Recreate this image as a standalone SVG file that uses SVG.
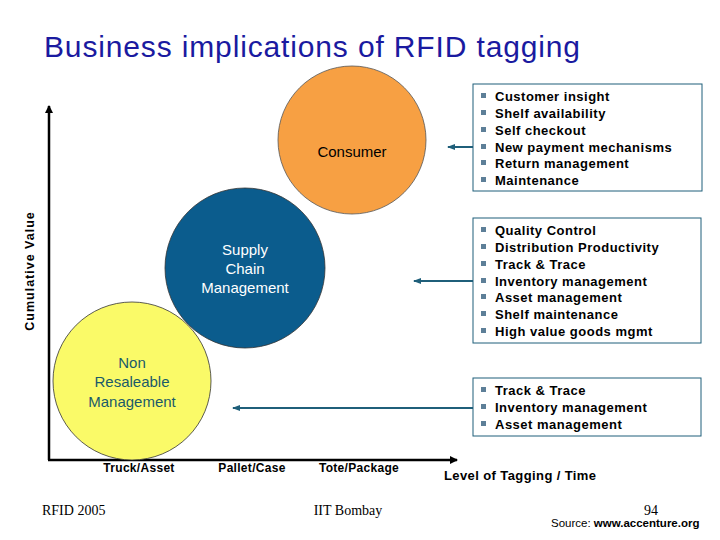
<svg xmlns="http://www.w3.org/2000/svg" width="720" height="540" viewBox="0 0 720 540">
<defs>
<style>
.t{font-family:"Liberation Sans",Arial,sans-serif}
.b{font-size:13px;font-weight:bold;fill:#000;letter-spacing:0.5px}
.box{fill:#fff;stroke:#1f5f7a;stroke-width:1}
.c{stroke:#1f5f7a;stroke-width:2;fill:none;marker-end:url(#ah)}
.sq{fill:#5d7f98;letter-spacing:0}
.ax{font-size:12px;font-weight:bold;letter-spacing:0.3px}
</style>
<marker id="ah" markerWidth="8" markerHeight="6" refX="7" refY="3" orient="auto" markerUnits="userSpaceOnUse"><path d="M0,0 L8,3 L0,6 z" fill="#1f5f7a"/></marker>
<marker id="ak" markerWidth="8" markerHeight="8" refX="7" refY="4" orient="auto" markerUnits="userSpaceOnUse"><path d="M0,0 L8,4 L0,8 z" fill="#000"/></marker>
</defs>
<rect width="720" height="540" fill="#fff"/>
<text class="t" x="44" y="57" font-size="30" fill="#1a1aa0" textLength="536">Business implications of RFID tagging</text>
<g id="axes" stroke="#000" stroke-width="2.5">
<line x1="49" y1="460" x2="49" y2="106" marker-end="url(#ak)"/>
<line x1="48" y1="460" x2="457" y2="460" marker-end="url(#ak)"/>
</g>
<text class="t" transform="translate(34,271) rotate(-90)" text-anchor="middle" font-size="12.5" font-weight="bold" letter-spacing="1">Cumulative Value</text>
<g id="consumer"><circle cx="352" cy="140" r="74" fill="#f7a043" stroke="#555" stroke-width="0.8"/><text class="t" x="352" y="157" text-anchor="middle" font-size="15" fill="#000">Consumer</text></g>
<g id="scm"><circle cx="245" cy="268" r="80" fill="#0b5c8d" stroke="#333" stroke-width="0.8"/>
<text class="t" font-size="15" fill="#fff" text-anchor="middle"><tspan x="245" y="255">Supply</tspan><tspan x="245" y="274">Chain</tspan><tspan x="245" y="293">Management</tspan></text></g>
<g id="nonres"><circle cx="132" cy="381" r="79" fill="#fafa68" stroke="#333" stroke-width="0.8"/>
<text class="t" font-size="15" fill="#1a5a6a" text-anchor="middle"><tspan x="132" y="368">Non</tspan><tspan x="132" y="387">Resaleable</tspan><tspan x="132" y="407">Management</tspan></text></g>
<g id="connectors">
<line class="c" x1="473" y1="147" x2="448" y2="147"/>
<line class="c" x1="473" y1="281" x2="414" y2="281"/>
<line class="c" x1="473" y1="408" x2="233" y2="408"/>
</g>
<g id="box1" class="t b"><rect class="box" x="473" y="84" width="229" height="107"/>
<g class="sq"><rect x="481" y="93" width="5" height="5"/><rect x="481" y="110" width="5" height="5"/><rect x="481" y="127" width="5" height="5"/><rect x="481" y="144" width="5" height="5"/><rect x="481" y="160" width="5" height="5"/><rect x="481" y="177" width="5" height="5"/></g>
<text x="495" y="101">Customer insight</text><text x="495" y="118">Shelf availability</text><text x="495" y="135">Self checkout</text><text x="495" y="152">New payment mechanisms</text><text x="495" y="168">Return management</text><text x="495" y="185">Maintenance</text></g>
<g id="box2" class="t b"><rect class="box" x="473" y="218" width="228" height="125"/>
<g class="sq"><rect x="481" y="227" width="5" height="5"/><rect x="481" y="244" width="5" height="5"/><rect x="481" y="261" width="5" height="5"/><rect x="481" y="278" width="5" height="5"/><rect x="481" y="294" width="5" height="5"/><rect x="481" y="311" width="5" height="5"/><rect x="481" y="328" width="5" height="5"/></g>
<text x="495" y="235">Quality Control</text><text x="495" y="252">Distribution Productivity</text><text x="495" y="269">Track &amp; Trace</text><text x="495" y="286">Inventory management</text><text x="495" y="302">Asset management</text><text x="495" y="319">Shelf maintenance</text><text x="495" y="336">High value goods mgmt</text></g>
<g id="box3" class="t b"><rect class="box" x="473" y="378" width="228" height="58"/>
<g class="sq"><rect x="481" y="387" width="5" height="5"/><rect x="481" y="404" width="5" height="5"/><rect x="481" y="421" width="5" height="5"/></g>
<text x="495" y="395">Track &amp; Trace</text><text x="495" y="412">Inventory management</text><text x="495" y="429">Asset management</text></g>
<g class="t ax" text-anchor="middle"><text x="139" y="472">Truck/Asset</text><text x="252" y="472">Pallet/Case</text><text x="359" y="472">Tote/Package</text></g>
<text class="t" x="444" y="480" font-size="13" font-weight="bold" letter-spacing="0.4">Level of Tagging / Time</text>
<text x="42" y="515" font-family="Liberation Serif,serif" font-size="14">RFID 2005</text>
<text x="348" y="515" font-family="Liberation Serif,serif" font-size="14" text-anchor="middle">IIT Bombay</text>
<text x="651" y="515" font-family="Liberation Serif,serif" font-size="14" text-anchor="middle">94</text>
<text class="t" x="551" y="527" font-size="11.5">Source: <tspan font-weight="bold">www.accenture.org</tspan></text>
</svg>
